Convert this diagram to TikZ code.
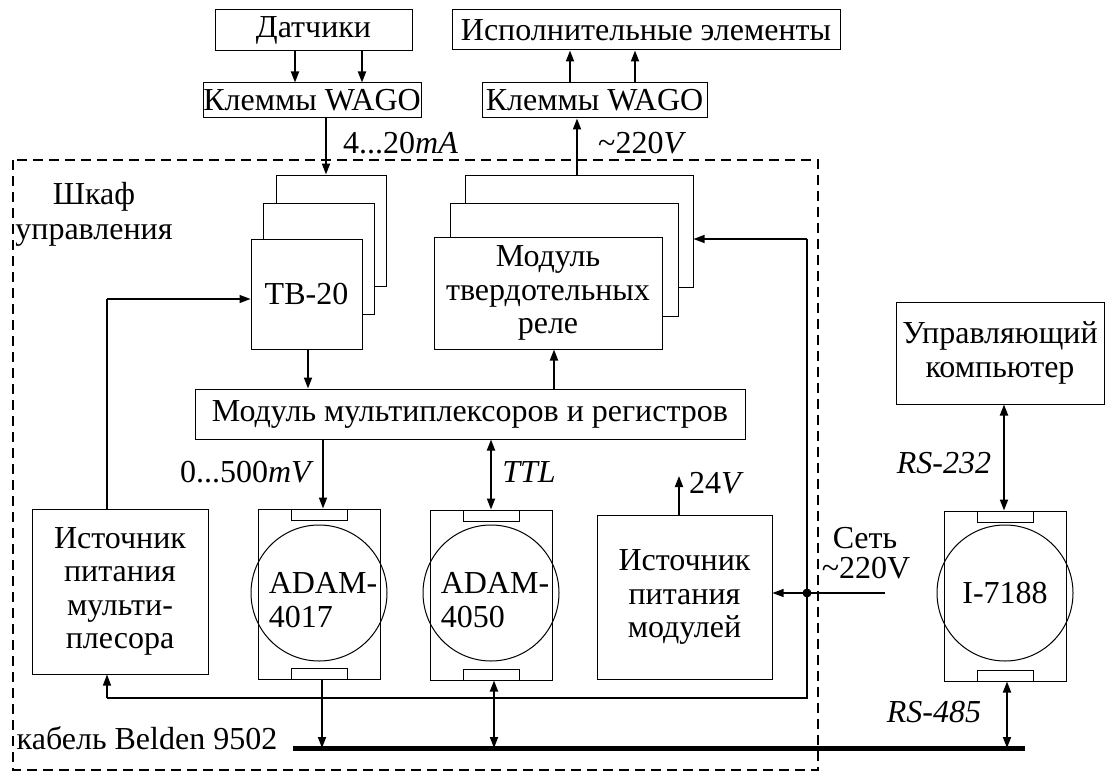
\documentclass[tikz,border=0pt]{standalone}
\usepackage{fontspec}
\setmainfont{Liberation Serif}
\usetikzlibrary{arrows.meta}
\newcommand{\fs}{\fontsize{32}{33.5}\selectfont}
\begin{document}
\begin{tikzpicture}[x=1pt,y=-1pt,
  box/.style={draw, line width=1pt, inner sep=0pt, align=center, font=\fs},
  lbl/.style={inner sep=0pt, font=\fs},
  arr/.style={line width=1.8pt, -{Triangle[length=11pt,width=8pt]}},
  darr/.style={line width=1.8pt, {Triangle[length=11pt,width=8pt]}-{Triangle[length=11pt,width=8pt]}},
  tarr/.style={line width=1.1pt, -{Triangle[length=11pt,width=8pt]}},
  tline/.style={line width=1.1pt},
  tab/.style={draw, line width=1pt, minimum width=56pt, minimum height=11pt, inner sep=0pt},
  modrect/.style={draw, line width=1pt, minimum width=122pt, minimum height=170pt, inner sep=0pt},
  modcirc/.style={draw, line width=1pt, circle, minimum size=136pt, inner sep=0pt}
]
\useasboundingbox (0,0) rectangle (1105,773);

% cabinet
\draw[line width=1.6pt, dash pattern=on 10pt off 6pt] (13,160) rectangle (818,770);
\node[lbl] (shkaf) at (94,197) {Шкаф};
\node[lbl] (upr) at (94,235) {управления};

% top boxes
\node[box, minimum width=197pt, minimum height=41pt] (dat) at (313.5,30.5) {Датчики};
\node[box, minimum width=218pt, minimum height=35pt] (kl1) at (312,100.5) {Клеммы WAGO};
\node[box, minimum width=388pt, minimum height=40pt] (isp) at (646,30) {Исполнительные элементы};
\node[box, minimum width=225pt, minimum height=35pt] (kl2) at (594.5,100.5) {Клеммы WAGO};

% TB-20 stack
\node[box, fill=white, minimum width=110pt, minimum height=111pt] (tbA) at (331,230.5) {};
\node[box, fill=white, minimum width=111pt, minimum height=111pt] (tbB) at (318.5,258.5) {};
\node[box, fill=white, minimum width=111pt, minimum height=110pt] (tb) at (306.5,294) {ТВ-20};

% relay stack
\node[box, fill=white, minimum width=228pt, minimum height=112pt] (reA) at (579,231) {};
\node[box, fill=white, minimum width=228pt, minimum height=113pt] (reB) at (564,259.5) {};
\node[box, fill=white, minimum width=228pt, minimum height=112pt] (re) at (548,293) {Модуль\\твердотельных\\реле};

% mux
\node[box, minimum width=550pt, minimum height=50pt] (mux) at (470,414) {Модуль мультиплексоров и регистров};

% power supplies
\node[box, minimum width=176pt, minimum height=165pt] (ps1) at (120,591.5) {Источник\\питания\\мульти-\\плесора};
\node[box, minimum width=175pt, minimum height=164pt] (ps2) at (684.5,597) {Источник\\питания\\модулей};

% ADAM-4017
\node[modrect] (a1) at (319,594) {};
\node[modcirc] (a1c) at (319,593) {};
\node[tab, anchor=north] (a1t) at (a1.north) {};
\node[tab, anchor=south] (a1b) at (a1.south) {};
\node[lbl, align=left] (a1l) at (323,600) {ADAM-\\4017};

% ADAM-4050
\node[modrect] (a2) at (491,595) {};
\node[modcirc] (a2c) at (491,593) {};
\node[tab, anchor=north] (a2t) at (a2.north) {};
\node[tab, anchor=south] (a2b) at (a2.south) {};
\node[lbl, align=left] (a2l) at (495,600) {ADAM-\\4050};

% I-7188
\node[modrect] (i7) at (1005,596) {};
\node[modcirc] (i7c) at (1005,593) {};
\node[tab, anchor=north] (i7t) at (i7.north) {};
\node[tab, anchor=south] (i7b) at (i7.south) {};
\node[lbl] (i7l) at (1005,593) {I-7188};

% computer
\node[box, minimum width=208pt, minimum height=102pt] (comp) at (1000,353) {Управляющий\\компьютер};

% bus
\coordinate (busL) at (293,748);
\coordinate (busR) at (1025,748);
\draw[line width=5pt] (busL) -- (busR);
\node[lbl] (bel) at (147,738) {кабель Belden 9502};

% top connectors
\draw[arr] (dat.south -| 295,0) -- (kl1.north -| 295,0);
\draw[arr] (dat.south -| 362,0) -- (kl1.north -| 362,0);
\draw[arr] (kl1.south -| 326,0) -- (tbA.north -| 326,0);
\node[lbl, anchor=west] (l420) at (343,143) {4...20\textit{mA}};
\draw[arr] (reA.north -| 577,0) -- (kl2.south -| 577,0);
\node[lbl, anchor=west] (l220) at (598,143) {\char`~220\textit{V}};
\draw[arr] (kl2.north -| 570,0) -- (isp.south -| 570,0);
\draw[arr] (kl2.north -| 635,0) -- (isp.south -| 635,0);

% TB-20 / mux / relay
\draw[arr] (tb.south -| 308,0) -- (mux.north -| 308,0);
\draw[arr] (mux.north -| 554,0) -- (re.south -| 554,0);
\coordinate (pA) at (107,299);
\draw[tline] (ps1.north -| pA) -- (pA);
\draw[tarr] (pA) -- (tb.west |- pA);

% mux to ADAMs
\draw[arr] (mux.south -| 323,0) -- (a1.north -| 323,0);
\node[lbl] (l500) at (247,472) {0...500\textit{mV}};
\draw[darr] (mux.south -| 491,0) -- (a2.north -| 491,0);
\node[lbl] (lttl) at (529,472) {\textit{TTL}};

% 24V
\coordinate (v24) at (679,476);
\draw[arr] (ps2.north -| v24) -- (v24);
\node[lbl, anchor=west] (l24) at (689,483) {24\textit{V}};

% mains
\coordinate (dot) at (807,593);
\coordinate (mainsR) at (885,593);
\coordinate (relTop) at (807,239);
\coordinate (botR) at (807,698);
\coordinate (botL) at (107,698);
\draw[tline] (mainsR) -- (dot);
\draw[tarr] (dot) -- (ps2.east |- dot);
\draw[tline] (dot) -- (relTop);
\draw[tarr] (relTop) -- (reA.east |- relTop);
\draw[tline] (dot) -- (botR) -- (botL);
\draw[tarr] (botL) -- (ps1.south -| botL);
\fill (dot) circle (4.5pt);
\node[lbl] (set1) at (865,538) {Сеть};
\node[lbl] (set2) at (866,568) {\char`~220V};

% bus connections
\draw[arr] (a1.south -| 322,0) -- (busL -| 322,0);
\draw[darr] (a2.south -| 494,0) -- (busL -| 494,0);
\draw[darr] (i7.south -| 1007,0) -- (busL -| 1007,0);
\node[lbl] (l485) at (934,712) {\textit{RS-485}};

% computer link
\draw[darr] (comp.south -| 1004,0) -- (i7.north -| 1004,0);
\node[lbl] (l232) at (944,463) {\textit{RS-232}};
\end{tikzpicture}
\end{document}
